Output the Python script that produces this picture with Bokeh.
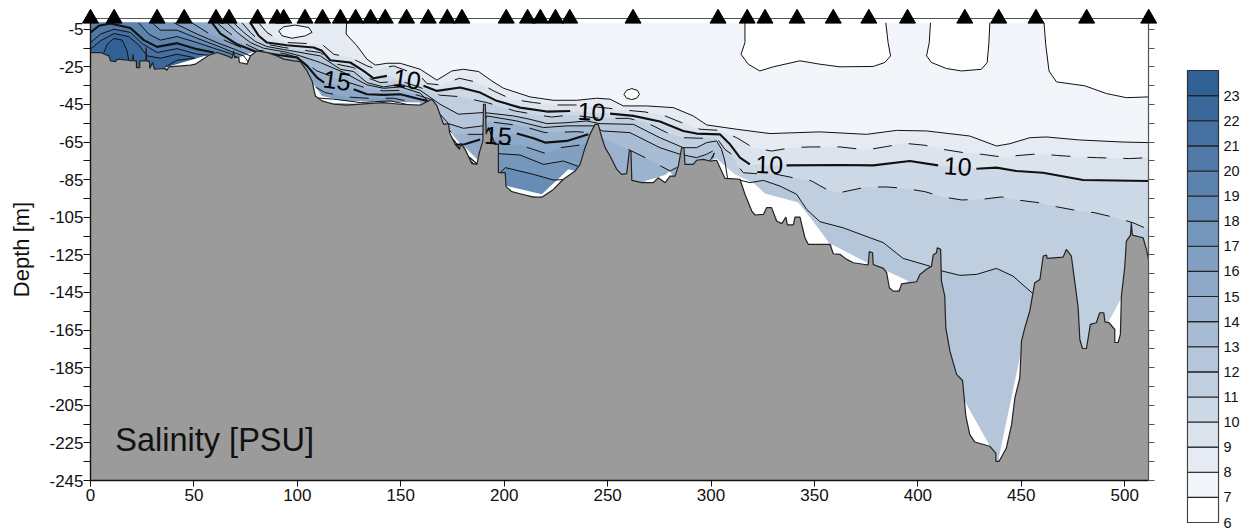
from bokeh.plotting import figure
from bokeh.layouts import row
from bokeh.models import Range1d, LinearAxis, FixedTicker, Label
from bokeh.embed import file_html
from bokeh.resources import INLINE

nan = float("nan")
SURFACE = -1.6
KM_MAX = 511.5
DEPTH_MAX = -245

station_km = [0, 11.4, 32.2, 45.3, 60.7, 67, 80.8, 90.2, 93.4, 103.7, 112.2, 120.8, 128.2, 135.4, 142.5, 152.8,
              163.3, 172.5, 179.6, 201, 211.3, 217.5, 224.8, 231.7, 262.3, 303.4, 317.5, 326.1, 341.6, 359.1,
              376.3, 395, 422.7, 439.1, 457.1, 481.6, 511.6]

bottom_km = [0, 4.8, 8.9, 9.7, 12.1, 12.9, 18.5, 20.1, 20.6, 20.9, 22.2, 22.2, 23.8, 23.8, 26.7, 26.9, 27.2, 28.5, 28.7, 30, 30.9, 35.4, 37, 37.8, 48.3, 50.7, 57.2, 61.2, 66, 68.4, 69.2, 69.6, 71.7, 72, 75.7, 77.3, 80.5, 85.3, 90.2, 93.4, 98.2, 101.4, 104.7, 107.1, 108.7, 111.9, 117.6, 124, 133.7, 141.7, 149.8, 159.4,
             165, 167.5, 170.7, 173.1, 173.6, 176.3, 178.4, 179, 181.1, 184.4, 186.8, 188, 189.7, 190, 190.9, 191.3, 192.4, 195.6, 197.2, 197.2, 200.5, 200.9, 203.7, 207.7, 214.2, 218.2, 223.8, 228.6, 234.3, 236.7, 239.1, 241.5, 243.9, 245.5, 247.2, 248.8, 251.2, 254.4, 256.8, 259.2, 260.5, 261.3, 261.7, 266.5, 272.1, 274.5, 277.8, 280.2, 282.6, 284.2, 285.8, 286.9, 287.4, 291.4, 293, 296.2, 299.5, 302.7, 305.1, 306.7, 314,
             316.4, 319.7, 321.3, 325.3, 326.9, 329.3, 331.7, 334.2, 336.2, 336.9, 339.8, 340.6, 343, 345.4, 347, 357.5, 359.1, 362.3, 365.6, 368.8, 376, 376.5, 378.1, 378.4, 383.3, 384.9, 386.2, 388.1, 391, 392.1, 399.4, 401, 404.2, 406.6, 407.4, 409, 409.4, 411, 411.4, 413, 413.5, 415.5, 418.7, 421.6, 423.2, 425.1, 427.5, 434.8, 437.7, 437.7, 439.3, 442.8, 445.3, 446.9, 449.3, 450.1, 451.7, 454.1, 456.5, 459, 460.6, 462.2, 462.5, 470.2, 471.8, 474.2, 475.9, 477.5, 478.3, 479.6, 481.5, 483.4, 486.3, 487.9, 489.9, 490.4, 492.4, 495.2, 495.2, 496.8, 497.9, 498.4, 500, 500.8, 502.8, 503.2, 503.7, 508.9, 510.5, 511.5]
bottom_depth = [-17.4, -17.4, -19.2, -21.8, -22.2, -20.9, -21.5, -21.8, -18.3, -21.8, -21.8, -25.4, -25.4, -21.8, -21.8, -14.7, -21.8, -22.2, -25.9, -22.7, -26.3, -25.9, -26.8, -25, -24.1, -23.6, -18.8, -17.4, -19.2, -20.4, -16.5, -20, -20, -22.7, -23.6, -19.2, -16.5, -17.4, -19.2, -20.9, -21.8, -22.2, -27.2, -32.5, -40.5, -43.1, -44.9, -45.4, -44.6, -44, -44.9, -45.4,
                -42.2, -45.8, -55.6, -55.2, -60, -66.2, -68.9, -65.8, -68.9, -76.5, -76.9, -70.6, -64.4, -44.9, -44.9, -60.9, -57.3, -66.2, -66.2, -81.3, -81.3, -88.7, -91.4, -92.5, -94.3, -94.3, -90.2, -84.8, -80.4, -76.9, -68, -60.9, -55.6, -55.6, -62.7, -68, -72.4, -79.5, -82.2, -81.8, -69.8, -69.8, -85.4, -86.6, -86.6, -84, -86.6, -83.1, -83.1, -77.7, -68, -68, -76.9, -76.9, -74.7, -74.2, -75.1, -74.7, -80.4, -84.3, -84.8,
                -92.8, -101.7, -103.8, -103.5, -99.9, -99.9, -107, -108.4, -104.9, -109.1, -109.1, -104.9, -104.9, -115.9, -119.4, -119.4, -124.4, -124.7, -127.4, -129.2, -130.4, -123.3, -123.9, -130.1, -132.2, -134.5, -142.5, -144.3, -144.3, -140.4, -139.3, -135.4, -132.7, -131, -125.1, -123.9, -121.2, -122.1, -138.9, -146.9, -163.8, -176.2, -188.6, -191.8, -210.8, -220.6, -224.5, -226.8, -230.4, -234.8, -234.8, -227.7, -215.3, -201.1, -190.4, -170.9, -163.8, -154.9, -139.8, -138.1, -125.6, -125.1, -126.9, -126.2, -122.1, -125.6, -139.8, -153.1, -170, -174.8, -174.8, -162, -161.1, -155.8, -155.8, -160.6, -161.1, -164.7, -171.6, -171.6, -167.3, -146.9, -131.8, -117.7, -114.5, -107.9, -114.5, -115.9, -122.1, -127.4]

# isohalines: salinity level -> km, depth (nan = pen lifted for a label)
iso_km = {
 8: [123.8, 123.6, 128.8, 133.6, 137.7, 143.3, 149.7, 159.4, 167.5, 174.7, 180.3, 187.6, 194, 199.7, 212.5, 223.8, 235.1, 244.7, 251.2, 257.6, 268.9, 281.8, 291.4, 297.9, 312.4, 328.5, 352.6, 375.2, 389.7, 404.2, 425.1, 438, 444.4, 454.1, 462.1, 478.2, 499.2, 511.5],
 9: [81.3, 85.3, 90, 95, 111.9, 117.6, 125.6, 133.7, 138.5, 146.5, 159.4, 162.6, 169, 178.4, 187.6, 195.6, 203.7, 214.2, 223.8, 235.1, 250.4, 259.2, 268.1, 277.8, 285.8, 294.7, 304.3, 312.4, 320.4, 329.3, 339, 347.8, 362.3, 375.2, 384.8, 393.7, 403.4, 412.2, 421.9, 430.7, 440.4, 449.3, 458.9, 467, 477.4, 486.3, 502.4, 511.5],
 10: [77.3, 81.3, 85.3, 95, 107.9, 111.9, 115.9, 125.6, 132, 136.9, 143.3, nan, 161, 167.5, 178.7, 188.4, 196.4, 207.7, 220.6, 231.9, nan, 251.2, 262.5, 275.3, 286.6, 293, 304.3, 309.2, 314, 318.8, nan, 336.5, 362.3, 378.4, 396.1, 409.8, nan, 428.3, 438, 447.6, 460.5, 479.9, 511.5],
 11: [73.3, 77.3, 81.3, 85.3, 93.4, 111.1, 119.2, 127.2, 133.7, 140.1, 149.8, 159.4, 169, 177.9, 191.6, 205.3, 214.2, 223, 231.9, 246.4, 260, 268.9, 278.6, 286.6, 296.3, 302.7, 306.7, 310, 312.4, 315.6, 321.2, 330.1, 339.8, 348.6, 356.7, 362.3, 375.2, 384.8, 393.7, 403.4, 412.2, 421.1, 430.7, 440.4, 449.3, 458.9, 467, 476.6, 485.5, 494.3, 504, 511.5],
 12: [69.2, 74.1, 79.7, 85.3, 93.4, 111.1, 120.8, 127.2, 133.7, 141.7, 149.8, 159.4, 169, 177.9, 190, 204.5, 212.5, 220.6, 230.3, 239.9, 246.4, 262.5, 275.3, 286.6, 293, 297.9, 302.7, 305.1, 306.7, 308, 313, 318.8, 325.3, 333.3, 341.4, 346.2, 352.7, 363.9, 376.8, 383.3, 392.9, 405.8, 410.6, 420.3, 428.4, 438, 446, 455.7],
 13: [66, 70.9, 77.3, 83.7, 93.4, 101.4, 111.1, 122.4, 133.7, 141.7, 149.8, 159.4, 168.3, 173.1, 180.3, 189.7, 191.6, 206.1, 219, 230.3, 243.1, 247.5, 260.8, 275.3, 285, 293, 297.9, 300.8],
 14: [61.2, 66.8, 74.1, 81.3, 93.4, 100.6, 109.5, 122.4, 133.7, 141.7, 149.8, 159.4, 164.2, 170, 175.5, 189.7, 191.6, 208.5, 219.8, 235.1, 241.5, nan, 260, 268.9, 280.2, 284.5],
 15: [58.8, 62.8, 70.9, 79.7, 91.8, 99.8, 104.7, 109.5, 113, nan, 127.2, 133.7, 141.7, 149.8, 159.4, 162.6, 170, 176, 180.9, 188.4, nan, 206.1, 214.2, 219.8, 230.3, 240.7],
 16: [49.1, 56.4, 69.2, 77.3, 90.2, 100, 105, 107.5, 113.5, 124, 133.7, 146.5, 159.4, 170, 180, 188, 191, 197.2, 207.7, 219.8, 227, 236.7, 240],
 17: [40.3, 51.5, 61.2, 70.9, 77.3, 90, 105, 109, 117.6, 130.4, 144.9, 159.4, 170, 180, 186, 190, 197.2, 207.7, 219, 228.6, 236.7],
 18: [29.8, 33.8, 41.9, 51.5, 61.2, 69.2, 74.1, 78, 110, 160, 190, 197.5, 200.5, 214.2, 223.8, 229],
 19: [23.3, 28.2, 33.8, 41.9, 51.5, 59.6, 67.6, 70.9],
 20: [0, 4, 9.7, 19.3, 25.8, 32.2, 41.9, 51.5, 59.6],
 21: [0, 4.8, 11.3, 19.3, 25, 32.2, 41.9, 51.5, 57.2],
 22: [0, 4.8, 11.3, 18.5, 23.3, 27.4, 33.8, 41.9, 49.9],
 23: [6.4, 8.1, 11.3, 15.3, 17.7, 18.5],
}
iso_depth = {
 8: [SURFACE, -7.6, -13.8, -20.9, -24.1, -23.1, -23.1, -26.3, -32.1, -27.2, -26.3, -27.5, -32.5, -36.4, -41, -42.8, -42.8, -41.7, -42.2, -45.8, -45.8, -46.7, -51.1, -55.9, -58.2, -60.5, -59.6, -60.9, -58.8, -59.1, -61.8, -67.1, -65.9, -62.7, -62.3, -63.9, -65, -65.3],
 9: [SURFACE, -6.7, -10, -12.1, -13, -18.3, -20.1, -24.5, -26.3, -24.5, -29.8, -33.9, -34.6, -31.1, -33.4, -38.2, -42.2, -44, -45.3, -45.3, -47, -48.1, -49, -51.1, -54.7, -58.2, -58.8, -62.7, -68, -69.8, -68, -67.6, -67.6, -69.2, -67.4, -65.7, -66.7, -68.9, -70.6, -71.5, -72.9, -72.1, -71.2, -72.1, -72.9, -73.3, -73.8, -73.3],
 10: [SURFACE, -8.5, -12.1, -13.5, -14.7, -16.5, -21.5, -22.7, -27.2, -31.1, -29.8, nan, -35.1, -37.8, -36, -38.7, -43.1, -46.7, -48.8, -48.5, nan, -49.9, -51.1, -54.1, -59.1, -60.5, -60.9, -66.2, -73.3, -76.9, nan, -77.4, -77.2, -77.4, -75.1, -77.4, nan, -79.2, -78.6, -80.4, -81.3, -85.2, -85.7],
 11: [SURFACE, -6.7, -10.8, -13, -14.7, -17.4, -23.6, -25.4, -30.7, -33.4, -32.5, -36, -40.1, -40.8, -44, -48.5, -50.2, -51.7, -50.6, -52.4, -52.4, -54.7, -60, -62.7, -63, -62.7, -68.9, -71.5, -76.9, -81.3, -81.8, -81.8, -84, -85.7, -90.7, -91.9, -88.9, -88.9, -89.6, -91.4, -94.2, -95.8, -95.5, -94.2, -96, -97.3, -99.4, -101.4, -102.6, -104.9, -107.9, -111.5],
 12: [SURFACE, -6.7, -11.5, -14.2, -15.8, -19.2, -26.3, -27.5, -33.4, -35.7, -34.3, -37.5, -44.9, -50.2, -49.3, -51.1, -52.9, -55.2, -54.7, -53.8, -55.2, -55.6, -62.7, -68, -68, -65.3, -64.4, -68.9, -75.1, -84.5, -85, -86.6, -85.4, -88.4, -92.8, -100.8, -107.4, -110.6, -115.9, -118.5, -126.9, -131, -133.3, -135.9, -135.4, -132.2, -136.3, -145.7],
 13: [SURFACE, -6.7, -12.1, -15.1, -16.9, -19.2, -22.7, -28, -34.6, -36.4, -35.7, -39, -49.3, -55.2, -57.7, -56.4, -51.1, -53.8, -57.3, -56.4, -56.4, -59.1, -60, -68, -71.5, -73.3, -71.5, -69.8],
 14: [SURFACE, -6.7, -12.4, -16.2, -17.9, -20.1, -27.2, -32.5, -36.4, -37.8, -37.5, -40.5, -42.2, -55, -60.9, -60.9, -54, -56.4, -60, -59.5, -60, nan, -68.9, -73.7, -80.4, -78],
 15: [SURFACE, -7.3, -13, -16.9, -18.8, -20, -24.5, -30.7, -33.4, nan, -36.9, -39.6, -39.9, -39.6, -42.2, -43.1, -56, -66.5, -66.2, -63.7, nan, -60.5, -63, -65.3, -64.4, -60.9],
 16: [SURFACE, -6.7, -13, -16.9, -19.7, -24, -28.5, -35, -38.7, -41, -41.7, -41.7, -44.6, -56, -70, -77.5, -70, -65.9, -66.6, -71, -68, -66.6, -66],
 17: [SURFACE, -7.6, -12.1, -16.2, -19.2, -22, -30, -41.5, -42.2, -44, -43.1, -46.5, -56.5, -70, -77.5, -78, -71.2, -71.9, -76.9, -75.1, -78.3],
 18: [SURFACE, -5.5, -5.5, -9.8, -13.8, -17.4, -19.2, -25, -50, -50, -80, -82, -78.6, -82.2, -85.2, -85],
 19: [SURFACE, -7.6, -10.8, -8.9, -12.1, -15.1, -17.9, -20],
 20: [-6.7, -3.2, -2, -4.4, -10.8, -14.4, -12.4, -15.6, -17.4],
 21: [-12.1, -7.6, -5, -6.7, -12.6, -17.4, -15.3, -18.3, -18.8],
 22: [-15.6, -11.2, -7.3, -8.9, -13.3, -19.2, -20.4, -18.3, -20],
 23: [-17.4, -13, -9.9, -10.8, -16.5, -21.8],
}

arc_km = [36.2, 41.9, 50.7]
arc_depth = [-25, -21.5, -20.4]
hook_km = [299.5, 301.6, 300.7]
hook_depth = [-75, -70.8, -73.7]

# closed pockets and open patches
fresh_patches = [  # below salinity 7
    ([316.4, 316.4, 314.5, 318, 323.6, 330.1, 343, 352.6, 362.3, 378.4, 384, 386.8, 385.6, 384.5],
     [SURFACE, -12.1, -18.3, -23.6, -27.2, -25, -21.8, -23.6, -25, -24.8, -22.7, -19.2, -12.1, SURFACE]),
    ([406.1, 405.5, 404.2, 406.6, 413.8, 421.1, 430.7, 433.5, 434.3, 434.8],
     [SURFACE, -12.1, -19.2, -22.7, -25.9, -27.2, -26.3, -22.7, -13, SURFACE]),
    ([461, 461.8, 463.4, 467, 480.7, 491.1, 500.8, 511.5],
     [SURFACE, -13, -27.2, -33, -35.1, -39.2, -41.4, -41]),
    ([257.9, 259.2, 261.7, 264.4, 265.4, 264.1, 261.7, 259.2, 257.9],
     [-39.6, -37.5, -36.6, -37.5, -39.6, -41.7, -42.4, -41.7, -39.6]),
]
oval8_km = [91, 93.4, 99, 105.5, 107.1, 103.9, 97.4, 92.6, 91]
oval8_depth = [-5.9, -3.7, -2.8, -4.1, -6.7, -8.5, -9.8, -8.5, -5.9]

nodata_patches = [
    ([299.5, 302.7, 311.6, 320.4, 326.1, 342.2, 348.6, 357.5, 347.8, 320, 305], [-75.1, -73.7, -82.2, -86.6, -92.4, -97.2, -106.1, -119.4, -125, -110, -90]),
    ([358.3, 376, 370.4, 359.1], [-119.4, -129.5, -131, -125.6]),
    ([385, 395.3, 388, 384], [-133.6, -138.9, -146, -140]),
    ([268.1, 277.7, 280.1, 281.8, 276.9, 268.9], [-85.7, -82.5, -80.4, -83.9, -87.5, -87.5]),
    ([173.6, 178.8, 178, 174], [-59, -66.2, -68.8, -64.4]),
    ([181.2, 187.6, 185.2, 181.2], [-67.9, -75, -76.8, -70.6]),
    ([201, 218.2, 231.1, 234.3, 226.3, 218.2, 212.6, 201.3], [-88.3, -92.8, -79.5, -80.4, -88.3, -94.6, -93.7, -91.5]),
    ([36.2, 58, 51.5, 37.8], [-25.4, -18.3, -24, -26.8]),
    ([71.7, 82.1, 77.3, 75.7, 71.7], [-20, -15.6, -19.2, -23.6, -22.7]),
    ([107.9, 111.9, 122.4, 159.4, 159.4, 112.7, 107.9], [-34.3, -40.5, -43.1, -44, -46, -44, -40.5]),
    ([498.9, 492.4, 495.2, 497.9], [-146.9, -160.2, -172.7, -172.7]),
    ([422.7, 437.2, 438, 425.1, 421.9], [-202.8, -231.3, -235.7, -225.9, -213.5]),
    ([450.6, 439.1, 439.6, 449.3], [-172.7, -233, -235.7, -210]),
]

bar_levels = list(range(6, 25))
bar_colors = ["#ffffff", "#f2f5f9", "#e6ebf3", "#dbe3ed", "#cdd9e6", "#c0cfe0", "#b5c6da", "#a8bcd3", "#9bb3ce",
              "#8ea8c7", "#82a0c2", "#7597bc", "#678cb5", "#5c82ae", "#5079a7", "#4570a1", "#3b689b", "#2f6096"]

labels = [("15", 119.2, -32.2, -0.14), ("15", 197, -61.5, -0.05), ("10", 153, -31.5, -0.14), ("10", 242.2, -48.8, -0.05),
          ("10", 328.2, -76.9, -0.03), ("10", 419.3, -77.8, -0.06)]

FONT = "Liberation Sans"
INK = "#111111"

p = figure(width=1178, height=529, x_range=Range1d(0, KM_MAX), y_range=Range1d(DEPTH_MAX, 0.7),
           output_backend="svg", toolbar_location=None, min_border_left=90, min_border_right=30,
           min_border_top=18, min_border_bottom=49, background_fill_color="white", outline_line_color=None,
           frame_align=False)
p.grid.visible = False


def clean(xs, ys):
    pairs = [(x, y) for x, y in zip(xs, ys) if x == x]
    return [a for a, _ in pairs], [b for _, b in pairs]


def idx(level):
    return bar_colors[level - 6]


p.patch([0, KM_MAX, KM_MAX, 0], [SURFACE, SURFACE, DEPTH_MAX, DEPTH_MAX], color=idx(7), line_color=None)
for xs, ys in fresh_patches:
    corner_x, corner_y = ([KM_MAX], [SURFACE]) if xs[-1] == KM_MAX else ([], [])
    p.patch(xs + corner_x, ys + corner_y, color="white", line_color=None)

for level in sorted(iso_km):
    xs, ys = clean(iso_km[level], iso_depth[level])
    if level < 20:
        px, py = [0, 0] + xs + [xs[-1], 0], [DEPTH_MAX, SURFACE] + ys + [DEPTH_MAX, DEPTH_MAX]
    else:
        px, py = xs + [xs[-1], xs[0]], ys + [DEPTH_MAX, DEPTH_MAX]
    p.patch(px, py, color=idx(level), line_color=None)
    if level == 8:
        p.patch(oval8_km, oval8_depth, color=idx(7), line_color=None)

for xs, ys in nodata_patches:
    p.patch(xs, ys, color="white", line_color=None)

for xs, ys in fresh_patches:
    p.line(xs, ys, line_color=INK, line_width=1)
p.line(oval8_km, oval8_depth, line_color=INK, line_width=1)
p.line(arc_km, arc_depth, line_color=INK, line_width=1)
p.line(hook_km, hook_depth, line_color=INK, line_width=1)
for level in sorted(iso_km):
    thick = level in (10, 15, 20)
    dashed = level in (9, 11, 14, 16)
    p.line(iso_km[level], iso_depth[level], line_color=INK, line_width=2.1 if thick else 1,
           line_dash="19 17" if dashed else "solid")

for txt, x, y, ang in labels:
    p.add_layout(Label(x=x, y=y, text=txt, angle=ang, text_font=FONT, text_font_size="25px", text_color="#000000",
                       text_align="center", text_baseline="middle", level="glyph"))

p.patch(bottom_km + [KM_MAX, 0], bottom_depth + [DEPTH_MAX, DEPTH_MAX], color="#9b9b9b", line_color=None)
p.line(bottom_km, bottom_depth, line_color="#222222", line_width=1.2)

p.add_layout(Label(x=12, y=-223.2, text="Salinity [PSU]", text_font=FONT, text_font_size="32.5px", text_color=INK,
                   text_align="left", text_baseline="alphabetic"))

p.scatter(station_km, [0.7] * len(station_km), marker="triangle", size=16, color="black", level="overlay")

major = list(range(-5, -246, -20))
minor = list(range(-15, -246, -20))
ax = p.yaxis[0]
ax.ticker = FixedTicker(ticks=major, minor_ticks=minor)
ax.major_label_overrides = {t: str(t) for t in major}
ax.axis_label = "Depth [m]"
ax.axis_label_text_font = FONT
ax.axis_label_text_font_size = "22px"
ax.axis_label_text_font_style = "normal"
ax.axis_label_text_color = INK
ax.axis_label_standoff = 12
ax.major_label_text_font = FONT
ax.major_label_text_font_size = "17px"
ax.major_label_text_color = INK
ax.major_tick_in = 0
ax.major_tick_out = 7
ax.minor_tick_in = 0
ax.minor_tick_out = 7
ax.major_label_standoff = 0
ax.axis_line_width = 1.4
ax.axis_line_color = INK
ax.major_tick_line_color = INK
ax.minor_tick_line_color = INK

bx = p.xaxis[0]
bx.ticker = FixedTicker(ticks=list(range(0, 501, 50)))
bx.major_label_text_font = FONT
bx.major_label_text_font_size = "17px"
bx.major_label_text_color = INK
bx.major_tick_in = 0
bx.major_tick_out = 6
bx.major_label_standoff = 2
bx.axis_line_width = 1.4
bx.axis_line_color = INK
bx.major_tick_line_color = INK
bx.minor_tick_line_color = None

right_ticks = sorted(major + minor)
rx = LinearAxis(ticker=FixedTicker(ticks=right_ticks), major_label_overrides={t: "" for t in right_ticks}, major_tick_in=0,
                major_tick_out=6, axis_line_color="#555555", major_tick_line_color="#555555",
                minor_tick_line_color=None, axis_line_width=1.2)
p.add_layout(rx, "right")
tx = LinearAxis(ticker=FixedTicker(ticks=[]), axis_line_color="#555555",
                major_tick_line_color=None, minor_tick_line_color=None, axis_line_width=1.2)
p.add_layout(tx, "above")

cb = figure(width=72, height=529, x_range=Range1d(0, 1), y_range=Range1d(6, 24), output_backend="svg",
            toolbar_location=None, min_border_left=9, min_border_right=32, min_border_top=70, min_border_bottom=7,
            outline_line_color="#333333", outline_line_width=1.2, frame_align=False)
cb.grid.visible = False
cb.xaxis.visible = False
cb.yaxis.visible = False
cb.quad(left=0, right=1, bottom=bar_levels[:-1], top=bar_levels[1:], fill_color=bar_colors, line_color="#222222",
        line_width=1.1)
cax = LinearAxis(ticker=FixedTicker(ticks=bar_levels[:-1]), axis_line_color=None, major_tick_line_color=None,
                 minor_tick_line_color=None, major_label_text_font=FONT, major_label_text_font_size="14.5px",
                 major_label_text_color=INK, major_label_standoff=5, major_tick_in=0, major_tick_out=0)
cb.add_layout(cax, "right")

layout = row(p, cb, spacing=0)
open("out.html", "w").write(file_html(layout, INLINE))
